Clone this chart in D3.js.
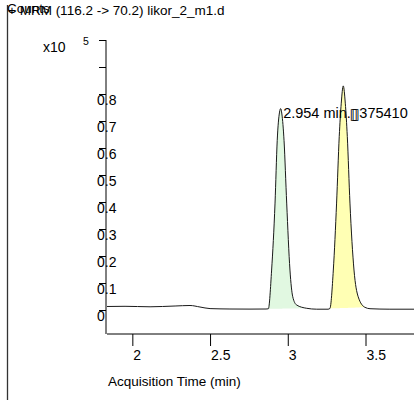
<!DOCTYPE html>
<html>
<head>
<meta charset="utf-8">
<script src="https://cdn.jsdelivr.net/npm/d3@7/dist/d3.min.js"></script>
<style>
  html, body { margin: 0; padding: 0; background: #fff; }
  svg { display: block; font-family: "Liberation Sans", Arial, sans-serif; }
</style>
</head>
<body>
<svg id="chart" width="414" height="400"></svg>
<script>
// Chromatogram trace: acquisition time (min) and signal (counts)
const times = [1.837, 1.953, 2.114, 2.275, 2.371, 2.435, 2.500, 2.628, 2.757, 2.860,
               2.875, 2.896, 2.918, 2.932, 2.947, 2.954, 2.962, 2.976, 2.993, 3.014,
               3.032, 3.057, 3.122, 3.186, 3.259, 3.271, 3.293, 3.314, 3.331, 3.344,
               3.357, 3.370, 3.383, 3.400, 3.426, 3.453, 3.496, 3.529, 3.657, 3.812];
const counts = [1300, 1370, 1190, 1480, 1670, 1110, 520, 370, 330, 370,
                440, 14800, 39600, 62700, 73300, 74600, 72600, 62700, 39600, 14800,
                4900, 1850, 630, 300, 300, 560, 14800, 39600, 64200, 76600,
                83000, 76600, 64200, 39600, 14800, 4900, 1000, 480, 300, 300];

// Integrated peaks (start / end of the integration window)
const peakStart = [2.875, 3.271];
const peakEnd = [3.122, 3.496];

// Axis ticks
const xTicks = [2, 2.5, 3, 3.5];
const yTicks = [0, 0.1, 0.2, 0.3, 0.4, 0.5, 0.6, 0.7, 0.8, 0.9, 1.0];
const yTickLabels = ["0", "0.1", "0.2", "0.3", "0.4", "0.5", "0.6", "0.7", "0.8", "", ""];
const xDomain = [1.837, 3.812];
const yDomain = [0, 1.0];   // x10^5 counts

// Texts
const headerCounts = "Counts";
const headerTitle = "+ MRM (116.2 -> 70.2) likor_2_m1.d";
const xTitle = "Acquisition Time (min)";
const peakLabelMain = "2.954 min.";
const peakLabelSep = "\u25AF\u25AF";
const peakLabelArea = "375410";

const peakFills = ["#e1f8e1", "#ffffb4"];

const svg = d3.select("#chart");
const axisX = 106, axisY = 334;

const x = d3.scaleLinear().domain(xDomain).range([107, 414]);
const y = d3.scaleLinear().domain(yDomain).range([310, 40]);

const pts = times.map((t, i) => ({ t, v: counts[i] / 1e5 }));

// Frame line on the left
svg.append("line")
  .attr("x1", 7.5).attr("x2", 7.5).attr("y1", 5).attr("y2", 400)
  .attr("stroke", "#333").attr("stroke-width", 1.3);

// Header texts
svg.append("text").attr("x", 7).attr("y", 13)
  .attr("font-size", 13.5).attr("fill", "#000").text(headerCounts);
svg.append("text").attr("x", 8).attr("y", 15)
  .attr("font-size", 13.5).attr("fill", "#000").text(headerTitle);

// Exponent label
svg.append("text").attr("x", 43).attr("y", 52)
  .attr("font-size", 14).attr("fill", "#000").text("x10");
svg.append("text").attr("x", 83).attr("y", 45)
  .attr("font-size", 10.5).attr("fill", "#000").text("5");

// Peak fills: area between trace and the straight integration baseline
peakStart.forEach((s, i) => {
  const e = peakEnd[i];
  const seg = pts.filter(p => p.t >= s - 1e-9 && p.t <= e + 1e-9);
  const a = seg[0], b = seg[seg.length - 1];
  const base = t => a.v + (b.v - a.v) * (t - a.t) / (b.t - a.t);
  const area = d3.area()
    .x(d => x(d.t))
    .y0(d => y(base(d.t)))
    .y1(d => y(d.v))
    .curve(d3.curveMonotoneX);
  svg.append("path").datum(seg)
    .attr("d", area)
    .attr("fill", peakFills[i])
    .attr("stroke", "none");
});

// Trace
const line = d3.line().x(d => x(d.t)).y(d => y(d.v)).curve(d3.curveMonotoneX);
svg.append("path").datum(pts)
  .attr("d", line)
  .attr("fill", "none")
  .attr("stroke", "#1a1a1a")
  .attr("stroke-width", 1);

// Y axis
const gy = svg.append("g").attr("transform", `translate(${axisX},0)`);
gy.call(d3.axisLeft(y).tickValues(yTicks).tickSize(7).tickSizeOuter(0)
  .tickFormat((d, i) => yTickLabels[i]));
gy.select(".domain").remove();
gy.selectAll(".tick line").attr("stroke", "#000");
gy.selectAll(".tick text")
  .attr("x", -9).attr("dy", null).attr("y", 10.5)
  .attr("text-anchor", "start")
  .attr("font-size", 14).attr("font-family", null).attr("fill", "#000");
gy.append("line").attr("x1", 0).attr("x2", 0)
  .attr("y1", y(yDomain[1])).attr("y2", axisY)
  .attr("stroke", "#000");

// X axis
const gx = svg.append("g").attr("transform", `translate(0,${axisY})`);
gx.call(d3.axisBottom(x).tickValues(xTicks).tickSize(12).tickSizeOuter(0)
  .tickFormat(d3.format("")));
gx.select(".domain").remove();
gx.selectAll(".tick line").attr("stroke", "#000");
gx.selectAll(".tick text")
  .attr("x", 0.5).attr("dy", null).attr("y", 26)
  .attr("text-anchor", "start")
  .attr("font-size", 14).attr("font-family", null).attr("fill", "#000");
gx.append("line").attr("x1", x(xDomain[0])).attr("x2", x(xDomain[1]))
  .attr("y1", 0).attr("y2", 0).attr("stroke", "#000");

// X axis title
svg.append("text").attr("x", 108).attr("y", 386)
  .attr("font-size", 13.5).attr("fill", "#000").text(xTitle);

// Peak annotation at the apex of the first peak
const apex = pts.filter(p => p.t <= peakEnd[0]).reduce((m, p) => p.v > m.v ? p : m);
const lab = svg.append("text")
  .attr("x", x(apex.t) + 2.5).attr("y", y(apex.v) + 9.5)
  .attr("font-size", 14.5).attr("fill", "#000");
lab.append("tspan").text(peakLabelMain);
lab.append("tspan").attr("font-size", 15).attr("dx", -1).attr("letter-spacing", -6.5)
  .attr("font-family", "DejaVu Sans").attr("dy", 0.5).text(peakLabelSep);
lab.append("tspan").attr("dx", 6).attr("dy", -0.5).text(peakLabelArea);
</script>
</body>
</html>
